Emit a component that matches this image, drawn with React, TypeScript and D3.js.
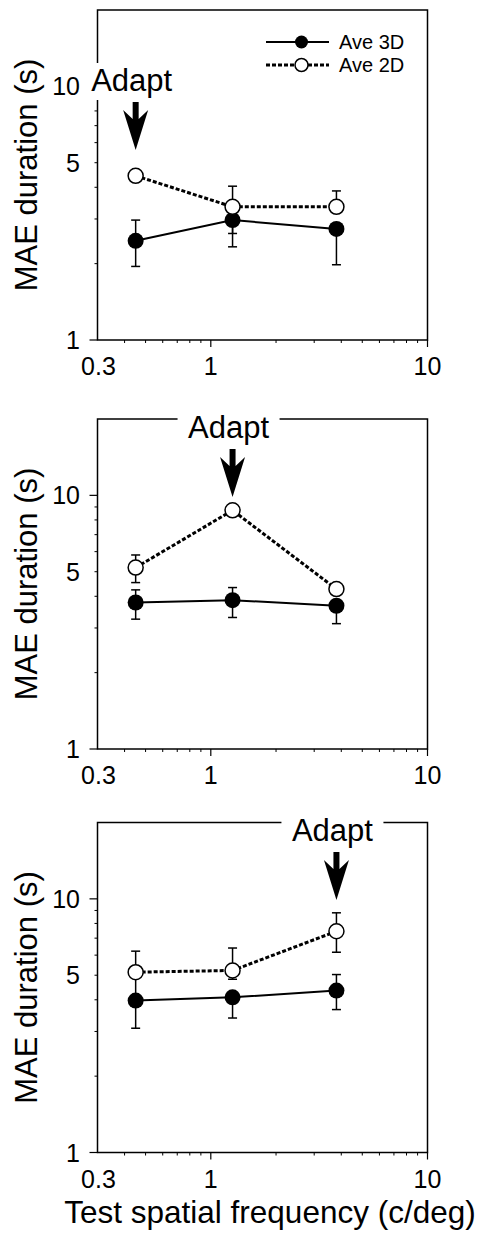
import React from 'react';
import * as d3 from 'd3';

// test spatial frequencies (c/deg)
const freqs = [0.45, 1.26, 3.8];

// panel 1 - adapted at low SF
const p1Ave3D = [2.46, 2.97, 2.74];
const p1Ave3DHi = [2.97, null, null];
const p1Ave3DLo = [1.95, 2.33, 1.98];
const p1Ave2D = [4.44, 3.35, 3.35];
const p1Ave2DHi = [null, 4.04, 3.87];
const p1Ave2DLo = [null, 2.63, null];

// panel 2 - adapted at mid SF
const p2Ave3D = [3.78, 3.86, 3.67];
const p2Ave3DHi = [4.24, 4.33, null];
const p2Ave3DLo = [3.25, 3.3, 3.12];
const p2Ave2D = [5.19, 8.73, 4.27];
const p2Ave2DHi = [5.82, null, null];
const p2Ave2DLo = [4.53, null, null];

// panel 3 - adapted at high SF
const p3Ave3D = [3.97, 4.09, 4.35];
const p3Ave3DHi = [4.9, null, 5.03];
const p3Ave3DLo = [3.09, 3.39, 3.66];
const p3Ave2D = [5.14, 5.22, 7.45];
const p3Ave2DHi = [6.22, 6.4, 8.81];
const p3Ave2DLo = [null, 4.82, 6.16];

const adaptFreqs = [0.45, 1.26, 3.8];

const xTickLabels = ['0.3', '1', '10'];
const yTickLabels = ['1', '5', '10'];
const legendLabels = ['Ave 3D', 'Ave 2D'];

const font = '"Liberation Sans", Arial, Helvetica, sans-serif';

const panels = [
  { s3: p1Ave3D, s3hi: p1Ave3DHi, s3lo: p1Ave3DLo, s2: p1Ave2D, s2hi: p1Ave2DHi, s2lo: p1Ave2DLo, adapt: adaptFreqs[0] },
  { s3: p2Ave3D, s3hi: p2Ave3DHi, s3lo: p2Ave3DLo, s2: p2Ave2D, s2hi: p2Ave2DHi, s2lo: p2Ave2DLo, adapt: adaptFreqs[1] },
  { s3: p3Ave3D, s3hi: p3Ave3DHi, s3lo: p3Ave3DLo, s2: p3Ave2D, s2hi: p3Ave2DHi, s2lo: p3Ave2DLo, adapt: adaptFreqs[2] },
];

// layout
const W = 478, H = 1238;
const left = 97.5, right = 427.5;
const plotH = 330;
const panelTops = [10, 419, 822.5];
const adaptBaselines = [91, 438, 841];

function Panel({ p, top, idx }) {
  const bottom = top + plotH;
  const x = d3.scaleLog().domain([0.3, 10]).range([left, right]);
  const y = d3.scaleLog().domain([1, 20]).range([bottom, top]);

  const line = d3.line<number>()
    .x((d, i) => x(freqs[i]))
    .y((d) => y(d));

  const xMinor = [0.4, 0.5, 0.6, 0.7, 0.8, 0.9, 2, 3, 4, 5, 6, 7, 8, 9];
  const yMinor = [2, 3, 4, 5, 6, 7, 8, 9];
  const xMajor = [0.3, 1, 10];
  const yMajor = [1, 5, 10];

  const bars = (vals, ends) =>
    vals.map((v, i) => {
      const e = ends[i];
      if (e == null) return null;
      const cx = x(freqs[i]);
      return (
        <g key={i} stroke="#000" strokeWidth={1.5}>
          <line x1={cx} x2={cx} y1={y(v)} y2={y(e)} />
          <line x1={cx - 4.5} x2={cx + 4.5} y1={y(e)} y2={y(e)} />
        </g>
      );
    });

  const ax = x(p.adapt);
  const base = adaptBaselines[idx];
  const shaftTop = base + 11;
  const tip = shaftTop + 48;
  const headTop = shaftTop + 8;
  const arrow = `M${ax - 3},${shaftTop} L${ax + 3},${shaftTop} L${ax + 3},${headTop + 9} L${ax + 12.5},${headTop} L${ax},${tip} L${ax - 12.5},${headTop} L${ax - 3},${headTop + 9} Z`;

  return (
    <g>
      {/* frame */}
      <rect x={left} y={top} width={right - left} height={plotH} fill="none" stroke="#000" strokeWidth={1.5} />
      {/* y ticks */}
      {yMinor.map((v) => (
        <line key={'ym' + v} x1={left - 3} x2={left} y1={y(v)} y2={y(v)} stroke="#000" strokeWidth={1} />
      ))}
      {[1, 10].map((v) => (
        <line key={'yM' + v} x1={left - 8} x2={left} y1={y(v)} y2={y(v)} stroke="#000" strokeWidth={1.2} />
      ))}
      {yMajor.map((v, i) => (
        <text key={'yl' + v} x={80} y={y(v)} dy="0.36em" textAnchor="end" fontSize={25} fontFamily={font}>
          {yTickLabels[i]}
        </text>
      ))}
      {/* x ticks */}
      {xMinor.map((v) => (
        <line key={'xm' + v} x1={x(v)} x2={x(v)} y1={bottom} y2={bottom + 3} stroke="#000" strokeWidth={1} />
      ))}
      {[1, 10].map((v) => (
        <line key={'xM' + v} x1={x(v)} x2={x(v)} y1={bottom} y2={bottom + 7} stroke="#000" strokeWidth={1.2} />
      ))}
      {xMajor.map((v, i) => (
        <text key={'xl' + v} x={x(v) + (i === 0 ? 1 : 0)} y={bottom + 35} textAnchor="middle" fontSize={25} fontFamily={font}>
          {xTickLabels[i]}
        </text>
      ))}
      {/* y title */}
      <text transform={`translate(37,${(top + bottom) / 2}) rotate(-90)`} textAnchor="middle" fontSize={31} fontFamily={font}>
        MAE duration (s)
      </text>

      {/* error bars */}
      {bars(p.s3, p.s3hi)}
      {bars(p.s3, p.s3lo)}
      {bars(p.s2, p.s2hi)}
      {bars(p.s2, p.s2lo)}

      {/* lines */}
      <path d={line(p.s3)} fill="none" stroke="#000" strokeWidth={2} />
      <path d={line(p.s2)} fill="none" stroke="#000" strokeWidth={3} strokeDasharray="4 2" />

      {/* markers */}
      {p.s3.map((v, i) => (
        <circle key={'c3' + i} cx={x(freqs[i])} cy={y(v)} r={8} fill="#000" />
      ))}
      {p.s2.map((v, i) => (
        <circle key={'c2' + i} cx={x(freqs[i])} cy={y(v)} r={7.5} fill="#fff" stroke="#000" strokeWidth={1.5} />
      ))}

      {/* adapt label + arrow */}
      <rect x={ax - 4 - 51} y={base - 28} width={102} height={37} fill="#fff" />
      <text x={ax - 4} y={base} textAnchor="middle" fontSize={31} fontFamily={font}>Adapt</text>
      <path d={arrow} fill="#000" />

      {/* legend */}
      {idx === 0 && (
        <g>
          <line x1={266} x2={329} y1={42} y2={42} stroke="#000" strokeWidth={2} />
          <circle cx={301.5} cy={42} r={6.5} fill="#000" />
          <text x={339} y={49} fontSize={20} fontFamily={font}>{legendLabels[0]}</text>
          <line x1={266} x2={329} y1={65} y2={65} stroke="#000" strokeWidth={3} strokeDasharray="4 2" />
          <circle cx={301.5} cy={65} r={6.5} fill="#fff" stroke="#000" strokeWidth={1.5} />
          <text x={339} y={72} fontSize={20} fontFamily={font}>{legendLabels[1]}</text>
        </g>
      )}
    </g>
  );
}

export default function App() {
  return (
    <svg width={W} height={H} style={{ position: 'absolute', left: 0, top: 0, background: '#fff' }}>
      {panels.map((p, i) => (
        <Panel key={i} p={p} top={panelTops[i]} idx={i} />
      ))}
      <text x={270} y={1223} textAnchor="middle" fontSize={31.5} fontFamily={font}>
        Test spatial frequency (c/deg)
      </text>
    </svg>
  );
}
